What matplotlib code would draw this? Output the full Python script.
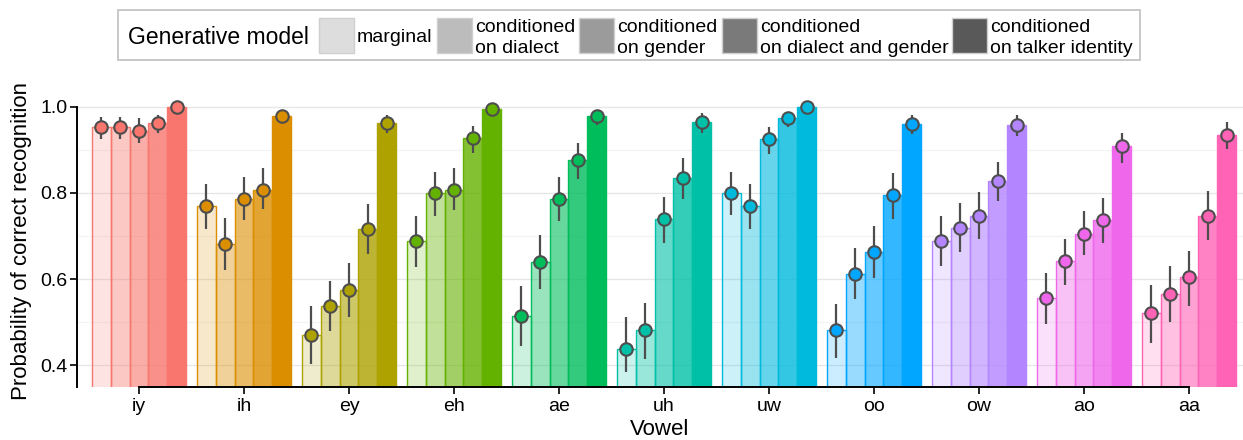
import matplotlib
matplotlib.use("Agg")
import matplotlib.pyplot as plt
import numpy as np
from matplotlib.patches import Rectangle

plt.rcParams["font.family"] = ["Liberation Sans", "DejaVu Sans"]

vowels = ["iy", "ih", "ey", "eh", "ae", "uh", "uw", "oo", "ow", "ao", "aa"]
models = ["marginal", "conditioned\non dialect", "conditioned\non gender",
          "conditioned\non dialect and gender", "conditioned\non talker identity"]
vowel_colors = ["#F8766D", "#DB8E00", "#AEA200", "#64B200", "#00BD5C", "#00C1A7",
                "#00BADE", "#00A6FF", "#B385FF", "#EF67EB", "#FF63B6"]
model_alpha = [0.2, 0.4, 0.6, 0.8, 1.0]

# rows = vowels, cols = models
prob = np.array([
    [0.954, 0.954, 0.945, 0.962, 1.000],
    [0.770, 0.682, 0.786, 0.808, 0.978],
    [0.471, 0.537, 0.574, 0.716, 0.962],
    [0.688, 0.799, 0.808, 0.927, 0.995],
    [0.514, 0.640, 0.786, 0.877, 0.979],
    [0.438, 0.481, 0.740, 0.834, 0.965],
    [0.799, 0.770, 0.925, 0.974, 1.000],
    [0.481, 0.612, 0.663, 0.795, 0.961],
    [0.688, 0.718, 0.747, 0.827, 0.957],
    [0.555, 0.642, 0.705, 0.736, 0.909],
    [0.522, 0.565, 0.604, 0.747, 0.934],
])
lower = np.array([
    [0.925, 0.925, 0.917, 0.939, 0.995],
    [0.716, 0.621, 0.737, 0.763, 0.970],
    [0.403, 0.479, 0.512, 0.658, 0.939],
    [0.628, 0.747, 0.760, 0.892, 0.990],
    [0.444, 0.577, 0.735, 0.832, 0.958],
    [0.384, 0.413, 0.684, 0.786, 0.940],
    [0.749, 0.716, 0.891, 0.954, 0.995],
    [0.417, 0.553, 0.603, 0.740, 0.936],
    [0.630, 0.663, 0.693, 0.781, 0.933],
    [0.496, 0.586, 0.656, 0.684, 0.870],
    [0.452, 0.499, 0.538, 0.691, 0.903],
])
upper = np.array([
    [0.977, 0.977, 0.974, 0.981, 1.000],
    [0.820, 0.741, 0.837, 0.857, 0.985],
    [0.537, 0.595, 0.637, 0.774, 0.981],
    [0.746, 0.849, 0.857, 0.956, 1.000],
    [0.584, 0.702, 0.836, 0.916, 0.989],
    [0.512, 0.545, 0.791, 0.881, 0.985],
    [0.849, 0.820, 0.953, 0.987, 1.000],
    [0.543, 0.671, 0.723, 0.846, 0.981],
    [0.746, 0.776, 0.802, 0.873, 0.981],
    [0.613, 0.693, 0.759, 0.788, 0.940],
    [0.586, 0.630, 0.665, 0.805, 0.964],
])

W, H = 1243, 440
fig = plt.figure(figsize=(W / 100, H / 100), dpi=100)
ax = fig.add_axes([77 / W, 53 / H, 1 - 77 / W, 293 / H])

ymin, ymax = 0.349, 1.03
bw = 0.18
x = np.arange(len(vowels))

for yv in [0.5, 0.7, 0.9]:
    ax.axhline(yv, color="#f3f3f3", linewidth=0.9, zorder=0)
for yv in [0.4, 0.6, 0.8, 1.0]:
    ax.axhline(yv, color="#e6e6e6", linewidth=0.9, zorder=0)

for i, col in enumerate(vowel_colors):
    for j, a in enumerate(model_alpha):
        xp = x[i] + (j - 2) * bw
        ax.bar(xp, prob[i, j], width=bw, bottom=0, color=matplotlib.colors.to_rgba(col, a),
               edgecolor=col, linewidth=1.0, zorder=2)
        ax.plot([xp, xp], [lower[i, j], upper[i, j]], color="#4d4d4d", linewidth=1.6,
                solid_capstyle="butt", zorder=3)
        ax.plot(xp, prob[i, j], "o", markersize=9, markerfacecolor=col,
                markeredgecolor="#4d4d4d", markeredgewidth=1.5, zorder=4)

ax.set_xlim(-0.59, 10.514)
ax.set_ylim(ymin, ymax)
ax.set_xticks(x)
ax.set_xticklabels(vowels, fontsize=14)
ax.set_yticks([0.4, 0.6, 0.8, 1.0])
ax.set_yticklabels(["0.4", "0.6", "0.8", "1.0"], fontsize=14)
ax.tick_params(axis="both", length=5, width=1.2, color="black", pad=2)
ax.tick_params(axis="x", pad=3)
for s in ["top", "right"]:
    ax.spines[s].set_visible(False)
ax.spines["left"].set_bounds(ymin, 1.0)
ax.spines["bottom"].set_bounds(0, 10)
ax.spines["left"].set_linewidth(1.4)
ax.spines["bottom"].set_linewidth(1.4)
ax.set_xlabel("Vowel", fontsize=16, labelpad=3)
ax.set_ylabel("Probability of correct recognition", fontsize=16, labelpad=6)


def fx(px):
    return px / W


def fy(py):
    return 1 - py / H


# legend drawn in figure pixels
fig.patches.append(Rectangle((fx(118), fy(60)), fx(1140) - fx(118), fy(10) - fy(60),
                             transform=fig.transFigure, facecolor="white",
                             edgecolor="#c4c4c4", linewidth=1.3))
fig.text(fx(128), fy(44), "Generative model", fontsize=16.5, va="baseline", ha="left")
key_left = [319, 437, 579, 722, 952]
for k, (lab, a) in enumerate(zip(models, model_alpha)):
    fig.patches.append(Rectangle((fx(key_left[k]), fy(53)), 35 / W, 35 / H,
                                 transform=fig.transFigure,
                                 facecolor=matplotlib.colors.to_rgba("#595959", a),
                                 edgecolor="#cfcfcf", linewidth=1.0))
    lines = lab.split("\n")
    tx = fx(key_left[k] + 38)
    if len(lines) == 1:
        fig.text(tx, fy(42.5), lines[0], fontsize=14, va="baseline", ha="left")
    else:
        fig.text(tx, fy(32.5), lines[0], fontsize=14, va="baseline", ha="left")
        fig.text(tx, fy(52.5), lines[1], fontsize=14, va="baseline", ha="left")

fig.savefig("out.png", dpi=100)
